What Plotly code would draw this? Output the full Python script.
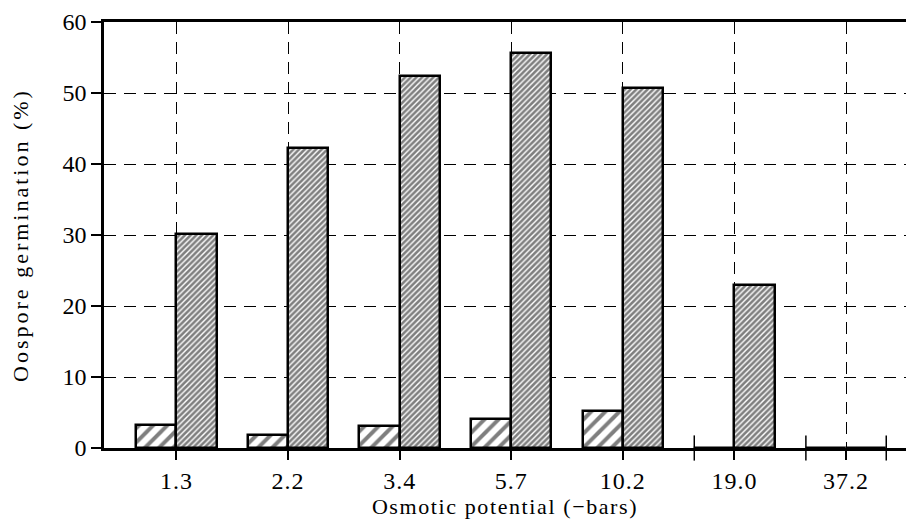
import plotly.graph_objects as go

categories = ["1.3", "2.2", "3.4", "5.7", "10.2", "19.0", "37.2"]
series_a = [3.3, 1.9, 3.1, 4.1, 5.2, 0, 0]        # low bars (coarse hatch)
series_b = [30.2, 42.3, 52.4, 55.7, 50.7, 23.0, 0]  # high bars (fine hatch)
y_ticks = [0, 10, 20, 30, 40, 50, 60]

BW = 0.36
pos = list(range(len(categories)))
FONT = "Liberation Serif"

fig = go.Figure()
fig.add_trace(go.Bar(
    x=pos, y=series_a, width=BW, offset=-BW,
    marker=dict(color="white", line=dict(color="black", width=2.5),
                pattern=dict(shape="/", size=10, solidity=0.4, fgcolor="black", bgcolor="white")),
    showlegend=False,
))
fig.add_trace(go.Bar(
    x=pos, y=series_b, width=BW, offset=0,
    marker=dict(color="white", line=dict(color="black", width=2.5),
                pattern=dict(shape="/", size=4, solidity=0.65, fgcolor="black", bgcolor="white")),
    showlegend=False,
))

# edge ticks for zero-height bars
ex, ey = [], []
for i, (a, b) in enumerate(zip(series_a, series_b)):
    if a == 0:
        ex.append(i - BW); ey.append(0)
    if b == 0:
        ex.append(i + BW); ey.append(0)
fig.add_trace(go.Scatter(
    x=ex, y=ey, mode="markers",
    marker=dict(symbol="line-ns", size=18, line=dict(color="black", width=1.5)),
    showlegend=False, hoverinfo="skip", cliponaxis=False,
))

fig.update_layout(
    width=906, height=524,
    margin=dict(l=104, r=0, t=22, b=76),
    paper_bgcolor="white", plot_bgcolor="white",
    font=dict(family=FONT, size=24, color="black"),
    bargap=0,
    xaxis=dict(
        range=[-0.649, 6.537],
        tickmode="array", tickvals=pos, ticktext=categories,
        ticks="outside", ticklen=9, tickwidth=1.5, tickcolor="black",
        showgrid=True, gridcolor="black", gridwidth=1.3, griddash="12px,8px",
        showline=True, linecolor="black", linewidth=2.5, mirror=True,
        zeroline=False,
        title=dict(text="Osmotic potential (\u2212bars)", standoff=6, font=dict(size=22)),
    ),
    yaxis=dict(
        range=[0, 60],
        tickmode="array", tickvals=y_ticks,
        ticks="outside", ticklen=10, tickwidth=1.5, tickcolor="black",
        showgrid=True, gridcolor="black", gridwidth=1.3, griddash="12px,8px",
        showline=True, linecolor="black", linewidth=2.5,
        zeroline=False,
        title=dict(text="Oospore germination (%)", standoff=28, font=dict(size=22)),
    ),
)

post = """
(function(){
  var gd = document.querySelector('.plotly-graph-div');
  function sp(){
    document.querySelectorAll('.xtitle').forEach(function(e){e.style.letterSpacing='1.6px';});
    document.querySelectorAll('.ytitle').forEach(function(e){e.style.letterSpacing='3px';});
    document.querySelectorAll('.xtick text').forEach(function(e){e.style.letterSpacing='1px';});
  }
  sp();
  if (gd && gd.on) { gd.on('plotly_afterplot', sp); }
})();
"""

fig.write_html("out.html", post_script=post)
